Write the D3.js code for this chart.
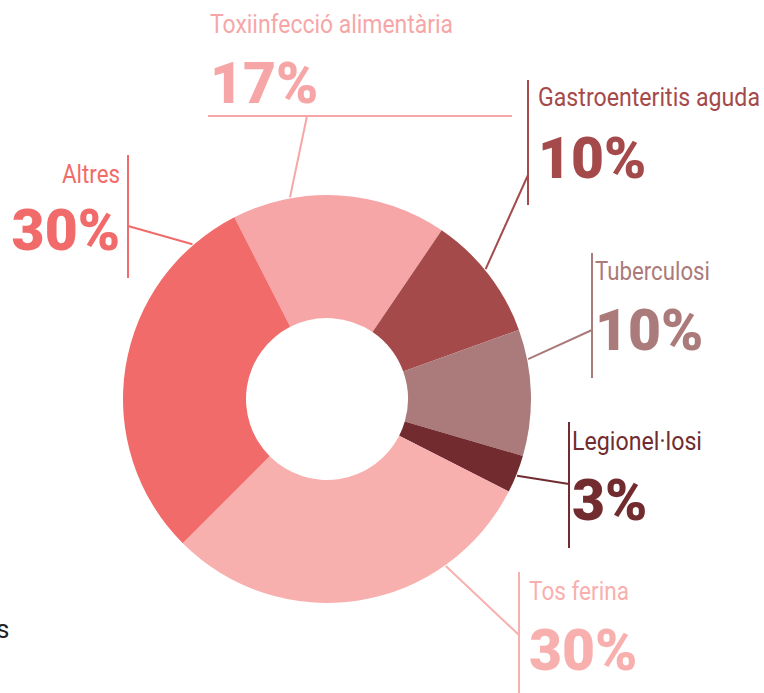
<!DOCTYPE html>
<html>
<head>
<meta charset="utf-8">
<script src="https://cdn.jsdelivr.net/npm/d3@7"></script>
<style>
  body { margin: 0; background: #fff; overflow: hidden; }
  svg { display: block; font-family: Roboto, "Noto Sans", sans-serif; }
</style>
</head>
<body>
<div id="chart"></div>
<script>
// Dades
const categories = ["Toxiinfecció alimentària", "Gastroenteritis aguda", "Tuberculosi",
                    "Legionel·losi", "Tos ferina", "Altres"];
const values = [17, 10, 10, 3, 30, 30];
const colors = ["#f7a6a7", "#a54a4a", "#ab7a7a", "#722c2f", "#f8b0ae", "#f06b69"];

// Configuració
const width = 764, height = 693;
const cx = 327, cy = 399;
const outerR = 204, innerR = 81;
const startDeg = -27;

// Posició de les etiquetes (x, línia base nom, línia base %, ancoratge, amplada del nom)
const labelLayout = [
  {x: 210, nameY: 33, pctY: 103, anchor: "start", nameW: 243,
   bar: [208, 116, 512, 116], joint: [307, 116], angle: -10.4},
  {x: 538, nameY: 106, pctY: 178, anchor: "start", nameW: 222,
   bar: [528, 80, 528, 205], joint: [528, 175], angle: 50.7},
  {x: 595, nameY: 280, pctY: 350, anchor: "start", nameW: 115,
   bar: [592, 253, 592, 378], joint: [592, 330], angle: 78.8},
  {x: 572, nameY: 450, pctY: 520, anchor: "start", nameW: 130,
   bar: [569, 422, 569, 548], joint: [569, 484], angle: 112},
  {x: 529, nameY: 600, pctY: 670, anchor: "start", nameW: 100,
   bar: [519, 572, 519, 693], joint: [519, 635], angle: 144.6},
  {x: 120, nameY: 183, pctY: 250, anchor: "end", nameW: 58,
   bar: [128, 155, 128, 278], joint: [128, 226], angle: -41}
];

const svg = d3.select("#chart")
  .append("svg")
  .attr("width", width)
  .attr("height", height);

const pie = d3.pie()
  .sort(null)
  .value(d => d)
  .startAngle(startDeg * Math.PI / 180)
  .endAngle(startDeg * Math.PI / 180 + 2 * Math.PI);

const arc = d3.arc().innerRadius(innerR).outerRadius(outerR);

const g = svg.append("g").attr("transform", `translate(${cx},${cy})`);

g.selectAll("path.slice")
  .data(pie(values))
  .enter().append("path")
  .attr("class", "slice")
  .attr("d", arc)
  .attr("fill", (d, i) => colors[i]);

// Línies guia i etiquetes
const labels = svg.selectAll("g.label")
  .data(categories)
  .enter().append("g")
  .attr("class", "label");

labels.append("line")
  .attr("x1", (d, i) => labelLayout[i].bar[0])
  .attr("y1", (d, i) => labelLayout[i].bar[1])
  .attr("x2", (d, i) => labelLayout[i].bar[2])
  .attr("y2", (d, i) => labelLayout[i].bar[3])
  .attr("stroke", (d, i) => colors[i])
  .attr("stroke-width", 2);

labels.append("line")
  .attr("x1", (d, i) => labelLayout[i].joint[0])
  .attr("y1", (d, i) => labelLayout[i].joint[1])
  .attr("x2", (d, i) => cx + 205 * Math.sin(labelLayout[i].angle * Math.PI / 180))
  .attr("y2", (d, i) => cy - 205 * Math.cos(labelLayout[i].angle * Math.PI / 180))
  .attr("stroke", (d, i) => colors[i])
  .attr("stroke-width", 2);

labels.append("text")
  .attr("x", (d, i) => labelLayout[i].x)
  .attr("y", (d, i) => labelLayout[i].nameY)
  .attr("text-anchor", (d, i) => labelLayout[i].anchor)
  .attr("textLength", (d, i) => labelLayout[i].nameW)
  .attr("lengthAdjust", "spacingAndGlyphs")
  .style("font-size", "25px")
  .attr("fill", (d, i) => colors[i])
  .text(d => d);

labels.append("text")
  .attr("x", (d, i) => labelLayout[i].x)
  .attr("y", (d, i) => labelLayout[i].pctY)
  .attr("text-anchor", (d, i) => labelLayout[i].anchor)
  .style("font-size", "57px")
  .style("font-weight", "900")
  .attr("fill", (d, i) => colors[i])
  .text((d, i) => values[i] + "%");

// Text retallat a la vora esquerra
svg.append("text")
  .attr("x", -4)
  .attr("y", 638)
  .style("font-size", "26px")
  .attr("fill", "#222")
  .text("s");
</script>
</body>
</html>
